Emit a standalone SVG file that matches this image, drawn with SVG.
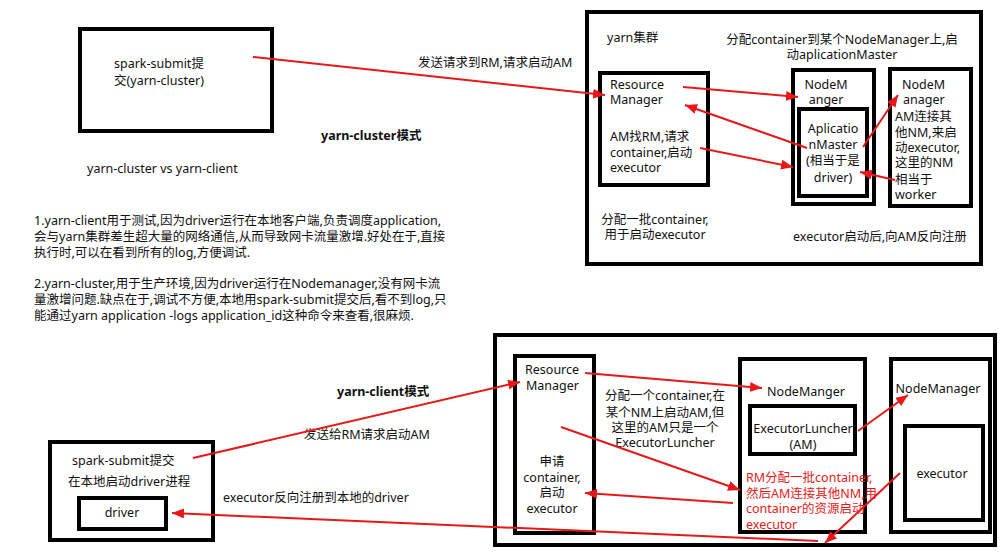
<svg xmlns="http://www.w3.org/2000/svg" width="1003" height="553" viewBox="0 0 1003 553">
<style>
text{font-family:"Noto Sans","Noto Sans CJK SC",sans-serif;font-size:12.5px;fill:#111}
.b{font-weight:bold}
.m{text-anchor:middle}
.r{fill:#e81818}
.box{fill:none;stroke:#000;stroke-width:4}
.ln{stroke:#e81818;stroke-width:2;fill:none;marker-end:url(#ah)}
</style>
<defs>
<marker id="ah" markerUnits="userSpaceOnUse" markerWidth="13" markerHeight="10" refX="12" refY="5" orient="auto">
<path d="M0,0 L12,5 L0,10 z" fill="#e81818"/>
</marker>
</defs>
<rect width="1003" height="553" fill="#fff"/>

<g id="texts-top">
<text x="418" y="67">发送请求到RM,请求启动AM</text>
<text x="321" y="140" class="b">yarn-cluster模式</text>
<text x="87" y="173">yarn-cluster vs yarn-client</text>
<text x="34" y="225">1.yarn-client用于测试,因为driver运行在本地客户端,负责调度application,</text>
<text x="34" y="241">会与yarn集群差生超大量的网络通信,从而导致网卡流量激增.好处在于,直接</text>
<text x="34" y="257">执行时,可以在看到所有的log,方便调试.</text>
<text x="34" y="288">2.yarn-cluster,用于生产环境,因为driver运行在Nodemanager,没有网卡流</text>
<text x="34" y="304">量激增问题.缺点在于,调试不方便,本地用spark-submit提交后,看不到log,只</text>
<text x="34" y="320">能通过yarn application -logs application_id这种命令来查看,很麻烦.</text>
</g>

<g id="spark-submit-cluster">
<rect class="box" x="80" y="29" width="192" height="102"/>
<text x="114" y="68">spark-submit提</text>
<text x="114" y="85">交(yarn-cluster)</text>
</g>

<g id="yarn-cluster-box">
<rect class="box" x="587" y="12" width="394" height="252"/>
<text x="607" y="42">yarn集群</text>
<text x="842" y="44" class="m">分配container到某个NodeManager上,启</text>
<text x="842" y="59" class="m">动aplicationMaster</text>
<text x="655" y="224" class="m">分配一批container,</text>
<text x="655" y="239" class="m">用于启动executor</text>
<text x="793" y="241">executor启动后,向AM反向注册</text>
</g>

<g id="rm-top">
<rect class="box" x="600" y="73" width="108" height="112"/>
<text x="610" y="89">Resource</text>
<text x="610" y="104">Manager</text>
<text x="610" y="141">AM找RM,请求</text>
<text x="610" y="157">container,启动</text>
<text x="610" y="172">executor</text>
</g>

<g id="nm-top">
<rect class="box" x="793" y="70" width="81" height="134"/>
<text x="826" y="89" class="m">NodeM</text>
<text x="826" y="104" class="m">anger</text>
</g>

<g id="am-top">
<rect class="box" x="799" y="109" width="68" height="87"/>
<text x="833" y="133" class="m">Aplicatio</text>
<text x="833" y="149" class="m">nMaster</text>
<text x="833" y="165" class="m">(相当于是</text>
<text x="833" y="182" class="m">driver)</text>
</g>

<g id="nm2-top">
<rect class="box" x="890" y="69" width="81" height="137"/>
<text x="902" y="89">NodeM</text>
<text x="903" y="104">anager</text>
<text x="895" y="121">AM连接其</text>
<text x="895" y="137">他NM,来启</text>
<text x="895" y="152">动executor,</text>
<text x="895" y="167">这里的NM</text>
<text x="895" y="184">相当于</text>
<text x="895" y="199">worker</text>
</g>

<g id="texts-bottom">
<text x="337" y="396" class="b">yarn-client模式</text>
<text x="304" y="439">发送给RM请求启动AM</text>
<text x="223" y="502">executor反向注册到本地的driver</text>
</g>

<g id="yarn-client-box">
<rect class="box" x="495" y="335" width="500" height="210"/>
<text x="665" y="400" class="m">分配一个container,在</text>
<text x="665" y="417" class="m">某个NM上启动AM,但</text>
<text x="665" y="432" class="m">这里的AM只是一个</text>
<text x="665" y="447" class="m">ExecutorLuncher</text>
</g>

<g id="rm-bottom">
<rect class="box" x="515" y="356" width="79" height="177"/>
<text x="525" y="374">Resource</text>
<text x="526" y="390">Manager</text>
<text x="552" y="466" class="m">申请</text>
<text x="552" y="482" class="m">container,</text>
<text x="552" y="497" class="m">启动</text>
<text x="552" y="513" class="m">executor</text>
</g>

<g id="nm-bottom">
<rect class="box" x="740" y="359" width="125" height="173"/>
<text x="806" y="396" class="m">NodeManger</text>
<text x="746" y="482" class="r">RM分配一批container,</text>
<text x="746" y="498" class="r">然后AM连接其他NM,用</text>
<text x="746" y="513" class="r">container的资源启动</text>
<text x="746" y="529" class="r">executor</text>
</g>

<g id="executorluncher">
<rect class="box" x="750" y="406" width="105" height="48"/>
<text x="803" y="433" class="m">ExecutorLuncher</text>
<text x="803" y="449" class="m">(AM)</text>
</g>

<g id="nm2-bottom">
<rect class="box" x="891" y="359" width="99" height="173"/>
<text x="938" y="393" class="m">NodeManager</text>
</g>

<g id="executor">
<rect class="box" x="905" y="426" width="78" height="94"/>
<text x="942" y="478" class="m">executor</text>
</g>

<g id="spark-submit-client">
<rect class="box" x="50" y="442" width="163" height="98"/>
<text x="72" y="465">spark-submit提交</text>
<text x="68" y="486">在本地启动driver进程</text>
</g>

<g id="driver">
<rect class="box" x="79" y="498" width="87" height="31"/>
<text x="122" y="517" class="m">driver</text>
</g>

<g id="connectors">
<line class="ln" x1="253" y1="57" x2="605" y2="95"/>
<line class="ln" x1="683" y1="87" x2="798" y2="97"/>
<line class="ln" x1="807" y1="148" x2="685" y2="105"/>
<line class="ln" x1="700" y1="148" x2="793" y2="167"/>
<line class="ln" x1="863" y1="147" x2="898" y2="95"/>
<line class="ln" x1="895" y1="180" x2="860" y2="172"/>
<line class="ln" x1="193" y1="458" x2="520" y2="382"/>
<line class="ln" x1="585" y1="373" x2="762" y2="388"/>
<line class="ln" x1="561" y1="427" x2="740" y2="490"/>
<line class="ln" x1="733" y1="503" x2="585" y2="493"/>
<line class="ln" x1="858" y1="431" x2="908" y2="395"/>
<line class="ln" x1="900" y1="473" x2="825" y2="543"/>
<line class="ln" x1="818" y1="541" x2="172" y2="513"/>
</g>
</svg>
